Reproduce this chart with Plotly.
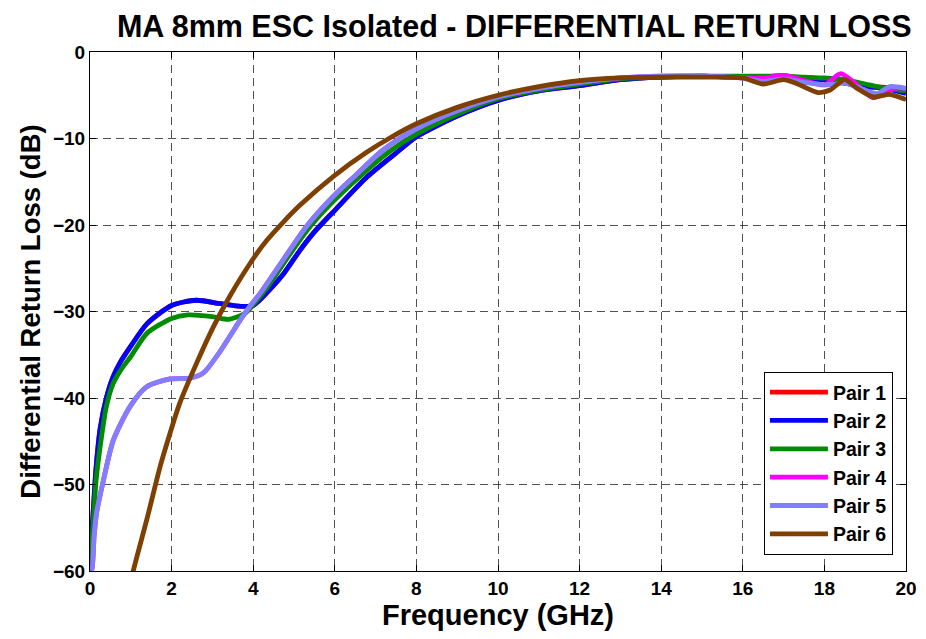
import plotly.graph_objects as go

# ---------------- data ----------------
f_p1 = [0.0, 0.03, 0.08, 0.15, 0.25, 0.4, 0.57, 0.75, 1.0, 1.4, 2.0, 2.6, 3.2, 3.7, 4.0, 4.4, 4.75, 5.15,
        5.5, 6.0, 6.8, 7.6, 8.0, 9.0, 10, 11, 12, 13, 14, 15, 16, 16.5, 17, 17.5, 18, 18.5, 19, 19.5, 20]
db_p1 = [-60, -57, -53, -48, -43.5, -40, -37.5, -35.8, -34, -31.4, -29.3, -28.7, -29.1, -29.4, -29.3, -27.5,
         -25.6, -22.9, -20.8, -18.3, -14.4, -11.3, -9.8, -7.4, -5.6, -4.5, -3.9, -3.2, -2.9, -2.8, -2.9, -2.9,
         -2.7, -3.1, -3.2, -3.6, -4.0, -4.1, -4.7]

f_p2 = [0.0, 0.03, 0.08, 0.15, 0.25, 0.4, 0.57, 0.75, 1.0, 1.4, 2.0, 2.6, 3.2, 3.7, 4.0, 4.4, 4.75, 5.15,
        5.5, 6.0, 6.8, 7.6, 8.0, 9.0, 10, 11, 12, 13, 14, 15, 16, 16.5, 17, 17.5, 18, 18.5, 19, 19.5, 20]
db_p2 = [-60, -57, -53, -48, -43.5, -40, -37.5, -35.8, -34, -31.4, -29.3, -28.7, -29.1, -29.4, -29.3, -27.5,
         -25.6, -22.9, -20.8, -18.3, -14.4, -11.3, -9.8, -7.4, -5.6, -4.5, -3.9, -3.2, -2.9, -2.8, -2.9, -2.9,
         -2.9, -3.2, -3.2, -3.6, -4.0, -4.2, -4.8]

f_p3 = [0.0, 0.03, 0.08, 0.15, 0.25, 0.4, 0.57, 0.75, 1.0, 1.4, 2.0, 2.4, 3.0, 3.4, 3.8, 4.3, 4.75, 5.15,
        5.5, 6.0, 6.8, 7.4, 8.0, 9.0, 10, 11, 12, 13, 14, 15, 16, 16.5, 17, 17.5, 18, 18.5, 19, 19.5, 20]
db_p3 = [-60, -58, -54.5, -49.5, -45.6, -41, -38.3, -36.8, -35.2, -32.5, -30.8, -30.4, -30.6, -30.9, -30.2,
         -27.5, -24.4, -21.7, -19.6, -17.1, -13.6, -11.3, -9.5, -7.2, -5.4, -4.4, -3.7, -3.1, -2.9, -2.8, -2.8,
         -2.8, -2.8, -2.9, -3.0, -3.2, -3.7, -4.2, -4.5]

f_p4 = [0.0, 0.04, 0.1, 0.16, 0.33, 0.57, 0.98, 1.39, 1.96, 2.45, 2.78, 3.19, 3.68, 3.92, 4.17, 4.74, 5.3,
        5.96, 6.5, 7.19, 8, 9, 10, 11, 12, 13, 14, 15, 16, 16.5, 17, 17.5, 18, 18.4, 18.8, 19.2, 19.7, 20]
db_p4 = [-60, -60, -56, -53.3, -49.5, -44.9, -41, -38.7, -37.8, -37.7, -37.1, -34.6, -31, -29.4, -27.9, -24,
         -20.2, -16.7, -14.3, -11.3, -8.9, -6.8, -5.2, -4.2, -3.5, -3.0, -2.8, -2.8, -3.0, -3.0, -2.7, -3.3,
         -3.8, -2.5, -3.8, -5.3, -4.2, -4.2]

f_p5 = [0.0, 0.04, 0.1, 0.16, 0.33, 0.57, 0.98, 1.39, 1.96, 2.45, 2.78, 3.19, 3.68, 3.92, 4.17, 4.74, 5.3,
        5.96, 6.5, 7.19, 8, 9, 10, 11, 12, 13, 14, 15, 16, 16.5, 17, 17.5, 18, 18.5, 19, 19.3, 19.6, 20]
db_p5 = [-60, -60, -56, -53.3, -49.5, -44.9, -41, -38.7, -37.8, -37.7, -37.1, -34.6, -31, -29.4, -27.9, -24,
         -20.2, -16.7, -14.3, -11.3, -8.9, -6.8, -5.2, -4.2, -3.5, -3.0, -2.8, -2.8, -3.0, -3.4, -3.1, -3.5,
         -3.8, -3.6, -4.4, -4.8, -4.0, -4.2]

f_p6 = [1.0, 1.06, 1.39, 1.72, 1.96, 2.2, 2.61, 3.02, 3.43, 4.0, 4.33, 4.75, 5.15, 5.96, 6.78, 7.4, 8, 9, 10,
        11, 12, 13, 14, 15, 16, 16.5, 17, 17.3, 17.85, 18.14, 18.5, 18.8, 19.2, 19.6, 20]
db_p6 = [-61.5, -60, -54.1, -47.9, -44.1, -40.6, -36, -31.8, -28.2, -23.9, -21.8, -19.6, -17.7, -14.4, -11.6,
         -9.8, -8.3, -6.4, -5.0, -4.0, -3.3, -3.0, -2.9, -2.9, -3.0, -3.7, -3.2, -3.6, -4.7, -4.4, -3.2, -4.2,
         -5.2, -4.9, -5.5]

pair_names = ["Pair 1", "Pair 2", "Pair 3", "Pair 4", "Pair 5", "Pair 6"]
pair_colors = ["#ff0000", "#0000ff", "#008c00", "#ff00ff", "#8080ff", "#7f3f00"]
x_ticks = [0, 2, 4, 6, 8, 10, 12, 14, 16, 18, 20]
y_ticks = [0, -10, -20, -30, -40, -50, -60]

series = [(f_p1, db_p1), (f_p2, db_p2), (f_p3, db_p3), (f_p4, db_p4), (f_p5, db_p5), (f_p6, db_p6)]

fig = go.Figure()
for (fx, fy), name, col in zip(series, pair_names, pair_colors):
    fig.add_trace(go.Scatter(
        x=fx, y=fy, mode="lines", name=name, legendgroup=name,
        line=dict(color=col, width=4.8, shape="spline", smoothing=0.7),
    ))

font_family = "Liberation Sans, Arial, sans-serif"
axis_common = dict(
    showline=True, linecolor="black", linewidth=1, mirror="ticks",
    ticks="inside", ticklen=6, tickcolor="black",
    showgrid=True, gridcolor="rgba(50,50,50,0.85)", griddash="8px,5px", gridwidth=1,
    zeroline=False, automargin=False,
    tickfont=dict(family=font_family, size=19, color="black", weight="bold"),
)

# the page body adds an 8px offset; figure size/margins compensate for it
fig.update_layout(
    width=914, height=623,
    margin=dict(l=82, r=16, t=44, b=60),
    paper_bgcolor="white", plot_bgcolor="white",
    title=dict(text="<b>MA 8mm ESC Isolated - DIFFERENTIAL RETURN LOSS</b>",
               x=0.52, xref="paper", xanchor="center", y=0.988, yref="container", yanchor="top",
               font=dict(family=font_family, size=30.5, color="black")),
    xaxis=dict(range=[0, 20], tickvals=x_ticks,
               title=dict(text="<b>Frequency (GHz)</b>", standoff=2,
                          font=dict(family=font_family, size=29, color="black")),
               **axis_common),
    yaxis=dict(range=[-60, 0], tickvals=y_ticks,
               title=dict(text="<b>Differential Return Loss (dB)</b>", standoff=4,
                          font=dict(family=font_family, size=27.5, color="black")),
               **axis_common),
    legend=dict(x=0.984, y=0.031, xanchor="right", yanchor="bottom",
                bgcolor="white", bordercolor="black", borderwidth=1,
                font=dict(family=font_family, size=19.5, color="black", weight="bold"),
                traceorder="grouped", tracegroupgap=0, itemwidth=58),
    showlegend=True,
)

fig.write_html("out.html")
